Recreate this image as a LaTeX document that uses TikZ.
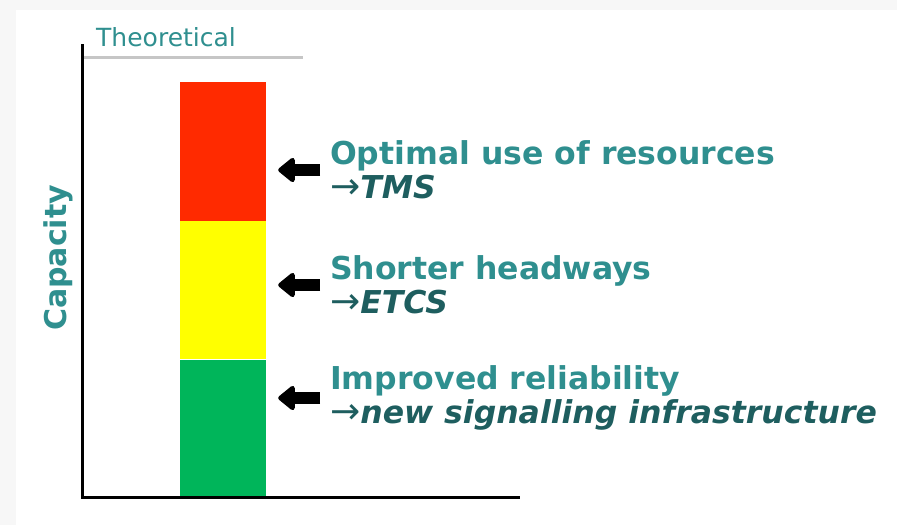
\documentclass[tikz,border=0pt]{standalone}
\usepackage{fontspec}
\setmainfont{DejaVu Sans}
\usepackage{tikz}
\usetikzlibrary{positioning}
\usetikzlibrary{arrows.meta}
\definecolor{barred}{HTML}{FF2A00}
\definecolor{baryellow}{HTML}{FFFF00}
\definecolor{bargreen}{HTML}{00B55A}
\definecolor{tealhead}{HTML}{2F8F8F}
\definecolor{tealsub}{HTML}{1E5E5F}
\tikzstyle{bar} = [rectangle, minimum width=86pt, minimum height=138.5pt, inner sep=0pt]
\tikzstyle{axis} = [draw, black, line width=3pt]
\tikzstyle{theoline} = [draw, gray!45, line width=3pt]
\tikzstyle{gain} = [anchor=west, align=left, inner sep=0pt, text=tealhead,
    font=\fontsize{31.5}{34}\selectfont\bfseries]
\tikzstyle{pointer} = [draw, line width=12pt, shorten <=10pt, shorten >=12pt,
    -{Triangle[length=18pt,width=28pt,round]}]
\newcommand{\via}[1]{{\color{tealsub}{\mdseries\upshape\fontsize{36}{34}\selectfont →}\textit{#1}}}

\begin{document}
\begin{tikzpicture}[x=1pt, y=-1pt]
        \useasboundingbox (0,0) rectangle (897,525);
        \fill [gray!6] (0,0) rectangle (897,525);
        \fill [white] (16,10) rectangle (897,525);
        % bar
        \node [bar, fill=barred] (red) at (223,151.25) {};
        \node [bar, fill=baryellow, below=0pt of red] (yellow) {};
        \node [bar, fill=bargreen, below=0pt of yellow] (green) {};
        % axes
        \coordinate (origin) at (82,497);
        \path [axis] (82,44) -- (origin) -- (520,497);
        \path [theoline] (84,57) -- (303,57);
        \node [anchor=base west, inner sep=0pt, text=tealhead, font=\fontsize{25}{28}\selectfont] (theo) at (96,46) {Theoretical};
        \node [rotate=90, text=tealhead, font=\fontsize{30}{32}\selectfont\bfseries] (cap) at (58,258) {Capacity};
        % texts
        \node [gain] (tms) at (330,170) {Optimal use of resources\\\via{TMS}};
        \node [gain] (etcs) at (330,285) {Shorter headways\\\via{ETCS}};
        \node [gain] (infra) at (330,398) {Improved reliability\\\via{new signalling infrastructure}};
        % edges
        \path [pointer] (tms.west) -- (tms.west -| red.east);
        \path [pointer] (etcs.west) -- (etcs.west -| yellow.east);
        \path [pointer] (infra.west) -- (infra.west -| green.east);
    \end{tikzpicture}
\end{document}
